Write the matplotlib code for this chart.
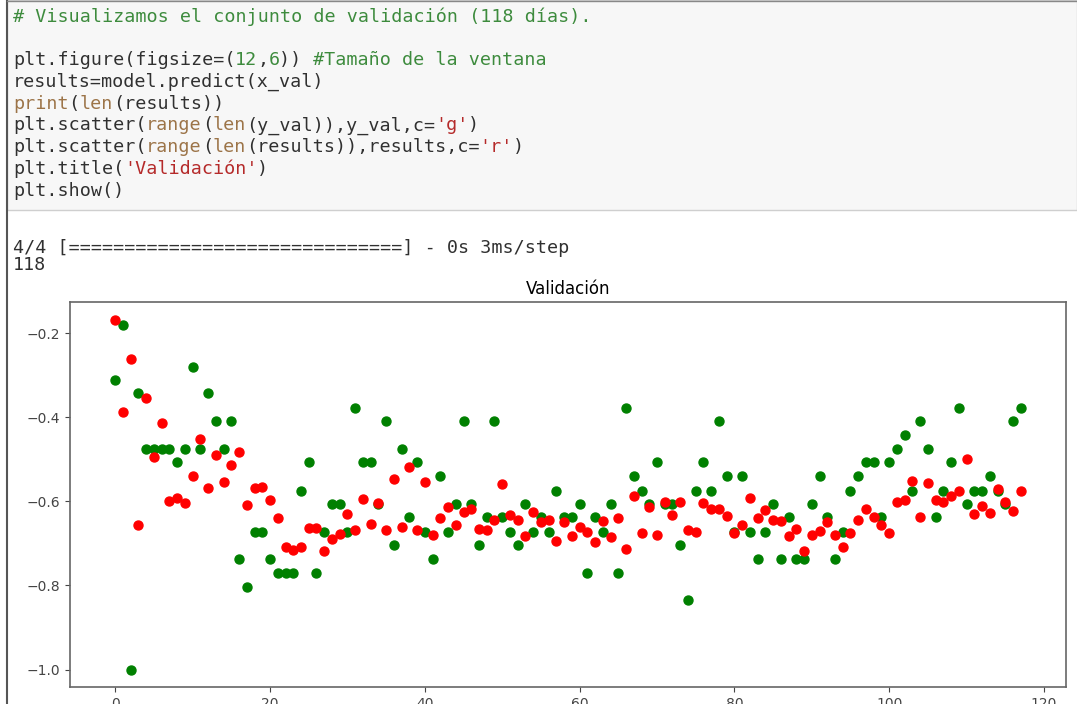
import matplotlib
matplotlib.use("Agg")
import matplotlib.pyplot as plt
from matplotlib.patches import Rectangle
from matplotlib.lines import Line2D

# Values (y_val = green, results = red)
y_val = [-0.311, -0.179, -1.000, -0.342, -0.475, -0.475, -0.475, -0.475, -0.505, -0.475,
         -0.279, -0.475, -0.342, -0.408, -0.475, -0.408, -0.736, -0.804, -0.672, -0.672,
         -0.736, -0.770, -0.770, -0.770, -0.574, -0.505, -0.770, -0.672, -0.606, -0.606,
         -0.672, -0.377, -0.505, -0.505, -0.606, -0.408, -0.703, -0.475, -0.637, -0.505,
         -0.672, -0.736, -0.539, -0.672, -0.606, -0.408, -0.606, -0.703, -0.637, -0.408,
         -0.637, -0.672, -0.703, -0.606, -0.672, -0.637, -0.672, -0.574, -0.637, -0.637,
         -0.606, -0.770, -0.637, -0.672, -0.606, -0.770, -0.377, -0.539, -0.574, -0.606,
         -0.505, -0.606, -0.606, -0.703, -0.834, -0.574, -0.505, -0.574, -0.408, -0.539,
         -0.672, -0.539, -0.672, -0.736, -0.672, -0.606, -0.736, -0.637, -0.736, -0.736,
         -0.606, -0.539, -0.637, -0.736, -0.672, -0.574, -0.539, -0.505, -0.505, -0.637,
         -0.505, -0.475, -0.441, -0.574, -0.408, -0.475, -0.637, -0.574, -0.505, -0.377,
         -0.606, -0.574, -0.574, -0.539, -0.574, -0.606, -0.408, -0.377]

results = [-0.167, -0.388, -0.260, -0.655, -0.355, -0.495, -0.413, -0.600, -0.591, -0.603,
           -0.539, -0.452, -0.568, -0.489, -0.553, -0.514, -0.483, -0.609, -0.568, -0.565,
           -0.597, -0.640, -0.708, -0.716, -0.708, -0.663, -0.663, -0.719, -0.689, -0.677,
           -0.629, -0.669, -0.594, -0.653, -0.604, -0.667, -0.546, -0.662, -0.518, -0.667,
           -0.553, -0.679, -0.640, -0.614, -0.657, -0.625, -0.618, -0.666, -0.667, -0.644,
           -0.559, -0.632, -0.644, -0.683, -0.625, -0.650, -0.644, -0.693, -0.650, -0.683,
           -0.661, -0.672, -0.696, -0.646, -0.685, -0.640, -0.714, -0.586, -0.675, -0.614,
           -0.679, -0.601, -0.633, -0.601, -0.669, -0.673, -0.604, -0.619, -0.619, -0.635,
           -0.676, -0.657, -0.593, -0.640, -0.620, -0.643, -0.646, -0.683, -0.666, -0.717,
           -0.679, -0.670, -0.650, -0.679, -0.708, -0.676, -0.643, -0.618, -0.638, -0.655,
           -0.676, -0.601, -0.597, -0.551, -0.638, -0.557, -0.597, -0.601, -0.586, -0.574,
           -0.499, -0.631, -0.612, -0.628, -0.570, -0.601, -0.623, -0.574]

# notebook text
C_TXT, C_COM, C_NUM, C_BI, C_STR = '#303030', '#3d8b3d', '#3d8b3d', '#9c7448', '#b52a2a'
code_lines = [
    [("# Visualizamos el conjunto de validación (118 días).", C_COM)],
    [],
    [("plt.figure(figsize=(", C_TXT), ("12", C_NUM), (",", C_TXT), ("6", C_NUM),
     (")) ", C_TXT), ("#Tamaño de la ventana", C_COM)],
    [("results=model.predict(x_val)", C_TXT)],
    [("print", C_BI), ("(", C_TXT), ("len", C_BI), ("(results))", C_TXT)],
    [("plt.scatter(", C_TXT), ("range", C_BI), ("(", C_TXT), ("len", C_BI),
     ("(y_val)),y_val,c=", C_TXT), ("'g'", C_STR), (")", C_TXT)],
    [("plt.scatter(", C_TXT), ("range", C_BI), ("(", C_TXT), ("len", C_BI),
     ("(results)),results,c=", C_TXT), ("'r'", C_STR), (")", C_TXT)],
    [("plt.title(", C_TXT), ("'Validación'", C_STR), (")", C_TXT)],
    [("plt.show()", C_TXT)],
]
output_lines = ["4/4 [==============================] - 0s 3ms/step", "118"]

W, H = 1077, 704
fig = plt.figure(figsize=(W / 100, H / 100), dpi=100)

def fx(x):
    return x / W

def fy(y):
    return 1 - y / H

# code cell
fig.patches.append(Rectangle((fx(7), fy(210)), fx(W) - fx(7), fy(0) - fy(210),
                             transform=fig.transFigure, facecolor='#f7f7f7',
                             edgecolor='#cfcfcf', lw=1, zorder=0))
fig.lines.append(Line2D([fx(7), fx(7)], [0, 1], transform=fig.transFigure,
                        color='#555555', lw=1.5))
fig.lines.append(Line2D([fx(7), 1], [fy(0.5), fy(0.5)], transform=fig.transFigure,
                        color='#888888', lw=1))

cw = 11.1      # character advance in px
fs = cw * 72 / 100 / 0.602
x0 = 13
for k, segs in enumerate(code_lines):
    col = 0
    for txt, colr in segs:
        fig.text(fx(x0 + col * cw), fy(17 + k * 21.7), txt, color=colr,
                 family='DejaVu Sans Mono', fontsize=fs, va='center', ha='left')
        col += len(txt)

for k, txt in enumerate(output_lines):
    fig.text(fx(x0), fy(248 + k * 17), txt, color=C_TXT,
             family='DejaVu Sans Mono', fontsize=fs, va='center', ha='left')

# the plot
ax = fig.add_axes([fx(70), fy(687), fx(1066) - fx(70), fy(302) - fy(687)])
ax.scatter(range(len(y_val)), y_val, c='g', s=42)
ax.scatter(range(len(results)), results, c='r', s=42)
ax.set_title('Validación', fontsize=12)
for sp in ax.spines.values():
    sp.set_color('#666666')
    sp.set_linewidth(1.2)
ax.tick_params(colors='#444444', labelsize=10)

plt.savefig('out.png', dpi=100)
